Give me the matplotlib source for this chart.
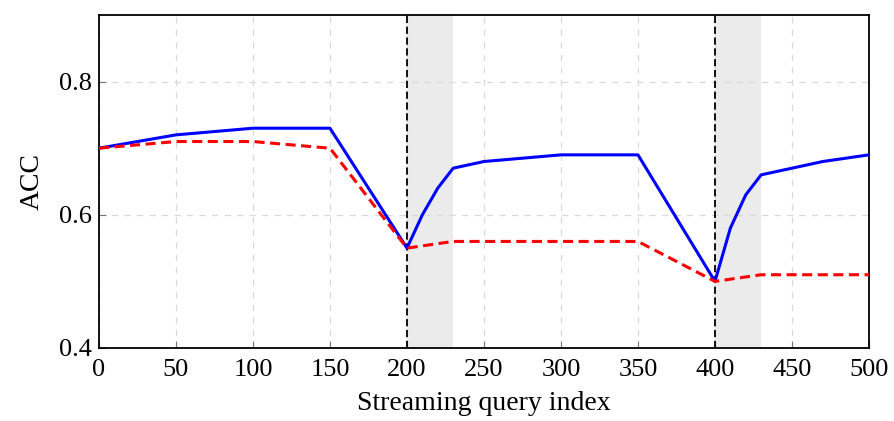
import matplotlib
matplotlib.use("Agg")
import matplotlib.pyplot as plt

blue_x = [0, 50, 100, 150, 200, 210, 220, 230, 250, 300, 350, 400, 410, 420, 430, 450, 470, 500]
blue_y = [0.70, 0.72, 0.73, 0.73, 0.55, 0.60, 0.64, 0.67, 0.68, 0.69, 0.69, 0.50, 0.58, 0.63, 0.66, 0.67, 0.68, 0.69]
red_x = [0, 50, 100, 150, 200, 230, 250, 350, 400, 430, 500]
red_y = [0.70, 0.71, 0.71, 0.70, 0.55, 0.56, 0.56, 0.56, 0.50, 0.51, 0.51]
shift_points = [200, 400]
shade_width = 30
xticks = [0, 50, 100, 150, 200, 250, 300, 350, 400, 450, 500]
yticks = [0.4, 0.6, 0.8]

plt.rcParams['font.family'] = ['Liberation Serif', 'DejaVu Serif']

fig = plt.figure(figsize=(8.94, 4.21), dpi=100)
ax = fig.add_axes([0.1107, 0.1734, 0.9720 - 0.1107, 0.9644 - 0.1734])

for s in shift_points:
    ax.axvspan(s, s + shade_width, color='#ebebeb', lw=0, zorder=0)
    ax.axvline(s, color='black', ls=(0, (4, 2)), lw=1.3, zorder=3)

ax.plot(blue_x, blue_y, color='#0000ff', lw=2.2, zorder=4)
ax.plot(red_x, red_y, color='#ff0000', lw=2.2, ls=(0, (3.3, 1.8)), zorder=4)

ax.set_xlim(0, 500)
ax.set_ylim(0.4, 0.9)
ax.set_xticks(xticks)
ax.set_yticks(yticks)
ax.set_xticklabels([str(t) for t in xticks])
ax.set_yticklabels([f"{t:.1f}" for t in yticks])
ax.grid(True, color='#d9d9d9', ls=(0, (5, 5)), lw=0.9, zorder=1)
ax.set_axisbelow(True)
ax.tick_params(direction='in', length=5, width=0.8, color='#777777', labelsize=19)
ax.tick_params(axis='x', pad=8)
ax.tick_params(axis='y', pad=5)
for sp in ax.spines.values():
    sp.set_linewidth(1.3)
    sp.set_color('black')
ax.set_xlabel('Streaming query index', fontsize=20, labelpad=7)
ax.set_ylabel('ACC', fontsize=20, labelpad=10)

fig.savefig('out.png', dpi=100)
